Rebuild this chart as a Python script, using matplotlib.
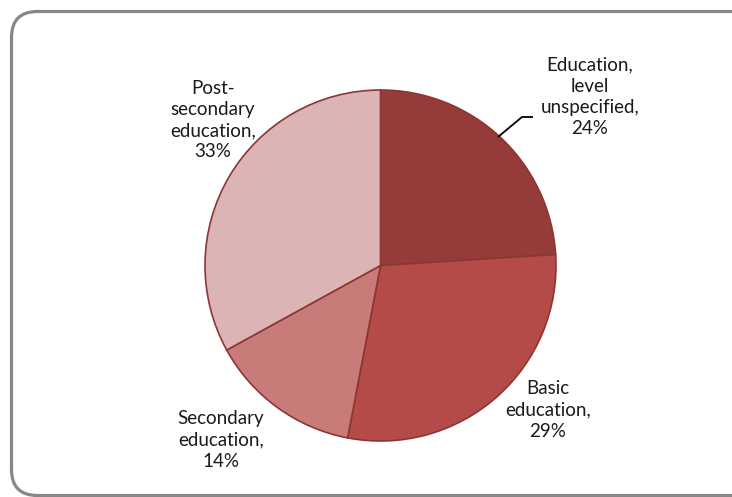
import matplotlib

matplotlib.use("agg")
import matplotlib.pyplot as plt
from matplotlib.patches import FancyBboxPatch

plt.rcParams["font.family"] = ["Lato", "DejaVu Sans"]

categories = [
    "Education,\nlevel\nunspecified",
    "Basic\neducation",
    "Secondary\neducation",
    "Post-\nsecondary\neducation",
]
shares = [24, 29, 14, 33]
colors = ["#953b39", "#b54b48", "#c97b7a", "#ddb4b5"]

W, H = 732, 497
fig = plt.figure(figsize=(W / 100, H / 100), dpi=100)
ax = fig.add_axes([0, 0, 1, 1])

# outer rounded frame, running off the right and bottom edges
frame = FancyBboxPatch(
    (11.5, 1.5), 1000, H - 13,
    boxstyle="round,pad=0,rounding_size=26",
    linewidth=2.3, edgecolor="#878787", facecolor="white",
    clip_on=False,
)
ax.add_patch(frame)

cx, cy, r = 380.5, H - 265.5, 175.5
wedges, _ = ax.pie(
    shares,
    colors=colors,
    startangle=90,
    counterclock=False,
    center=(cx, cy),
    radius=r,
    wedgeprops=dict(edgecolor="#8c3634", linewidth=1.2),
    frame=True,
)
ax.set_xlim(0, W)
ax.set_ylim(0, H)
ax.set_aspect("equal")
ax.axis("off")

label_pos = [(590, H - 97), (548, H - 410), (221, H - 440), (213, H - 120)]
for name, v, (x, y) in zip(categories, shares, label_pos):
    ax.text(x, y, f"{name},\n{v}%", ha="center", va="center",
            fontsize=13.5, color="#1a1a1a", linespacing=1.3)

# leader line for the first slice
ax.plot([498, 522, 533], [H - 137, H - 117, H - 117], color="black", lw=1.3,
        solid_capstyle="butt")

fig.savefig("out.png", dpi=100)
